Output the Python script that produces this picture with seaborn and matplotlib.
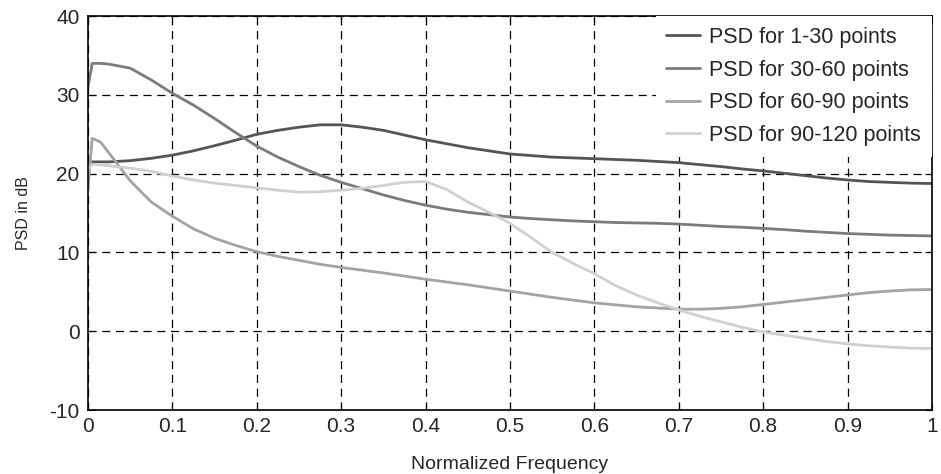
import numpy as np
import pandas as pd
import matplotlib
matplotlib.use("Agg")
import matplotlib.pyplot as plt
from matplotlib import font_manager
import seaborn as sns

# Normalized frequency grid shared by all four spectra
freq = [0.0, 0.005, 0.015, 0.025, 0.05, 0.075, 0.1, 0.125, 0.15, 0.175, 0.2,
        0.225, 0.25, 0.275, 0.3, 0.325, 0.35, 0.375, 0.4, 0.425, 0.45, 0.475, 0.5,
        0.525, 0.55, 0.575, 0.6, 0.625, 0.65, 0.675, 0.7, 0.725, 0.75, 0.775, 0.8,
        0.825, 0.85, 0.875, 0.9, 0.925, 0.95, 0.975, 1.0]

psd_1_30 = [21.3, 21.5, 21.5, 21.5, 21.65, 21.95, 22.35, 22.9, 23.55, 24.25, 25.0,
            25.5, 25.9, 26.2, 26.2, 25.9, 25.5, 24.9, 24.3, 23.8, 23.3, 22.9, 22.5,
            22.3, 22.1, 22.0, 21.9, 21.8, 21.7, 21.55, 21.4, 21.15, 20.9, 20.6, 20.35,
            20.05, 19.75, 19.45, 19.2, 19.0, 18.9, 18.8, 18.75]
psd_30_60 = [31.0, 34.0, 34.0, 33.9, 33.4, 31.9, 30.2, 28.7, 27.0, 25.2, 23.5,
             22.1, 20.9, 19.8, 18.9, 18.1, 17.3, 16.6, 16.0, 15.5, 15.1, 14.8, 14.5,
             14.3, 14.15, 14.0, 13.9, 13.8, 13.75, 13.7, 13.6, 13.45, 13.3, 13.2, 13.05,
             12.9, 12.7, 12.55, 12.4, 12.3, 12.2, 12.15, 12.1]
psd_60_90 = [18.0, 24.5, 24.0, 22.6, 19.1, 16.4, 14.6, 13.0, 11.8, 10.9, 10.1,
             9.5, 9.0, 8.5, 8.1, 7.75, 7.4, 7.0, 6.6, 6.25, 5.9, 5.5, 5.1,
             4.7, 4.3, 3.95, 3.6, 3.35, 3.1, 2.95, 2.8, 2.8, 2.9, 3.1, 3.4,
             3.7, 4.0, 4.3, 4.6, 4.9, 5.1, 5.25, 5.3]
psd_90_120 = [20.5, 21.2, 21.1, 21.0, 20.7, 20.3, 19.7, 19.2, 18.8, 18.5, 18.2,
              17.9, 17.65, 17.7, 17.9, 18.15, 18.5, 18.9, 19.0, 18.0, 16.4, 15.1, 13.7,
              11.9, 10.0, 8.6, 7.3, 5.8, 4.6, 3.6, 2.7, 1.9, 1.2, 0.5, -0.1,
              -0.5, -0.9, -1.3, -1.6, -1.85, -2.0, -2.15, -2.2]

labels = ["PSD for 1-30 points", "PSD for 30-60 points",
          "PSD for 60-90 points", "PSD for 90-120 points"]
colors = ["#555555", "#7b7b7b", "#a3a3a3", "#d0d0d0"]

x_ticks = [0, 0.1, 0.2, 0.3, 0.4, 0.5, 0.6, 0.7, 0.8, 0.9, 1]
x_ticklabels = ["0", "0.1", "0.2", "0.3", "0.4", "0.5", "0.6", "0.7", "0.8", "0.9", "1"]
y_ticks = [-10, 0, 10, 20, 30, 40]

df = pd.concat([
    pd.DataFrame({"freq": freq, "psd": vals, "series": lab})
    for vals, lab in zip([psd_1_30, psd_30_60, psd_60_90, psd_90_120], labels)
])

sns.set_theme(style="white")
installed = {f.name for f in font_manager.fontManager.ttflist}
base_font = "Liberation Sans" if "Liberation Sans" in installed else "DejaVu Sans"
plt.rcParams["font.family"] = [base_font, "DejaVu Sans"]

fig = plt.figure(figsize=(9.41, 4.74), dpi=100)
ax = fig.add_axes([0.0935, 0.135, 0.8969, 0.831])

sns.lineplot(data=df, x="freq", y="psd", hue="series", hue_order=labels,
             palette=colors, linewidth=2.0, ax=ax, sort=False, estimator=None)

ax.set_xlim(0, 1)
ax.set_ylim(-10, 40)
ax.set_xticks(x_ticks)
ax.set_xticklabels(x_ticklabels, fontsize=15)
ax.set_yticks(y_ticks)
ax.set_yticklabels([str(v) for v in y_ticks], fontsize=15)

ax.grid(True, color="black", linestyle=(0, (6.5, 4.5)), linewidth=0.9)
ax.set_axisbelow(True)
ax.tick_params(direction="in", length=5, width=0.8, color="black",
               top=True, right=True, bottom=True, left=True, pad=6)
ax.tick_params(axis="x", pad=5)
for side in ax.spines.values():
    side.set_color("black")
    side.set_linewidth(1.2)

ax.set_xlabel("Normalized Frequency", fontsize=14)
ax.xaxis.set_label_coords(0.5, -0.118)
ax.set_ylabel("PSD in dB", fontsize=11.5)
ax.yaxis.set_label_coords(-0.068, 0.5)

leg = ax.legend(loc="upper right", fontsize=15.5, frameon=True, fancybox=False,
                borderaxespad=0.0, handlelength=1.55, handletextpad=0.45,
                labelspacing=0.54, borderpad=0.5)
leg.get_frame().set_facecolor("white")
leg.get_frame().set_edgecolor("none")
leg.get_frame().set_alpha(1.0)
for line in leg.get_lines():
    line.set_linewidth(2.0)

fig.savefig("out.png", dpi=100)
